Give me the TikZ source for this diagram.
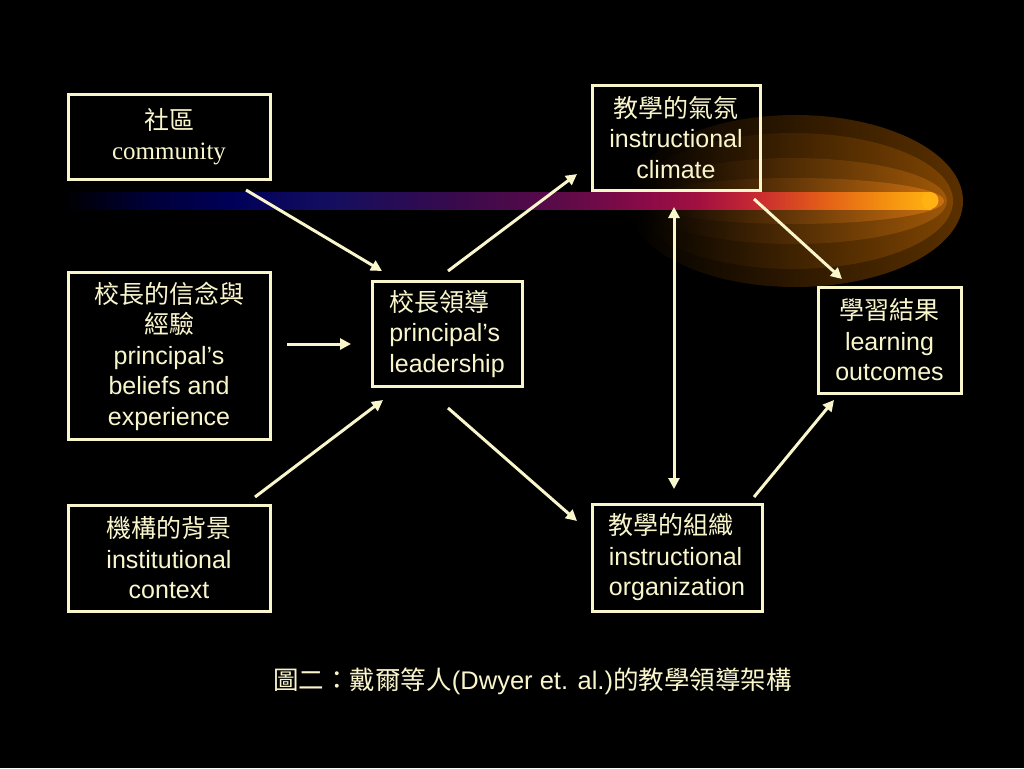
\documentclass[tikz,border=0pt]{standalone}
\usepackage{fontspec}
\setmainfont{Liberation Sans}
\newfontfamily\cjk{Noto Sans CJK TC}
\newfontfamily\serifen{Liberation Serif}
\usetikzlibrary{arrows.meta}
\definecolor{cream}{HTML}{FAF6CC}
\definecolor{g1}{HTML}{4E2A00}
\definecolor{g2}{HTML}{6E3B02}
\definecolor{g3}{HTML}{8E4C06}
\definecolor{g4}{HTML}{B8620C}
\definecolor{h1}{HTML}{5A3000}
\definecolor{h2}{HTML}{7E4402}
\definecolor{h3}{HTML}{A05808}
\definecolor{h4}{HTML}{CC7010}
\definecolor{b0}{HTML}{000000}
\definecolor{b1}{HTML}{00003A}
\definecolor{b2}{HTML}{000058}
\definecolor{b3}{HTML}{140E60}
\definecolor{b4}{HTML}{3A0A4C}
\definecolor{b5}{HTML}{5C0A48}
\definecolor{b6}{HTML}{880A48}
\definecolor{b7}{HTML}{A21040}
\definecolor{b8}{HTML}{CA2C30}
\definecolor{b9}{HTML}{E25C18}
\definecolor{b10}{HTML}{F28C10}
\definecolor{b11}{HTML}{FFB212}
\tikzset{
  box/.style={draw=cream, line width=3pt, inner sep=0pt, text=cream,
    font=\fontsize{25}{30.5}\selectfont},
  tip/.style={Triangle[length=11pt,width=11pt]},
  conn/.style={draw=cream, line width=3pt, -{Triangle[length=11pt,width=11pt]}},
  dconn/.style={draw=cream, line width=3pt, {Triangle[length=11pt,width=11pt]}-{Triangle[length=11pt,width=11pt]}},
}
\begin{document}
\begin{tikzpicture}[x=1pt,y=-1pt]
\useasboundingbox (0,0) rectangle (1024,768);
\fill[black] (0,0) rectangle (1024,768);
% glow
\shade[left color=black, middle color=g1, right color=h1] (795,201) ellipse [x radius=168, y radius=86];
\shade[left color=black, middle color=g2, right color=h2] (793,201) ellipse [x radius=160, y radius=68];
\shade[left color=black, middle color=g3, right color=h3] (793,201) ellipse [x radius=154, y radius=43];
\shade[left color=black, middle color=g4, right color=h4] (794,201) ellipse [x radius=150, y radius=23];
% comet bar
\foreach \xa/\xb/\ca/\cb in {63/150/b0/b1, 150/230/b1/b2, 230/330/b2/b3, 330/460/b3/b4,
   460/560/b4/b5, 560/640/b5/b6, 640/700/b6/b7, 700/760/b7/b8, 760/820/b8/b9,
   820/880/b9/b10, 880/931/b10/b11}
  \shade[left color=\ca, right color=\cb] (\xa-0.6,192) rectangle (\xb+0.6,209);
\fill[b11] (930,200.5) circle [radius=8.5];
% boxes
\node[box, minimum width=202pt, minimum height=85pt, align=center] (comm) at (169,136.5)
  {{\cjk 社區}\\{\serifen community}};
\node[box, minimum width=202pt, minimum height=167pt, align=center] (beli) at (169,356)
  {{\cjk 校長的信念與}\\{\cjk 經驗}\\principal’s\\beliefs and\\experience};
\node[box, minimum width=202pt, minimum height=106pt, align=center] (inst) at (169,558)
  {{\cjk 機構的背景}\\institutional\\context};
\node[box, minimum width=150pt, minimum height=105pt, align=left] (lead) at (447,333.5)
  {{\cjk 校長領導}\\principal’s\\leadership};
\node[box, minimum width=168pt, minimum height=105pt, align=center] (clim) at (676,137.5)
  {{\cjk 教學的氣氛}\\instructional\\climate};
\node[box, minimum width=170pt, minimum height=107pt, align=left] (orgn) at (677,557.5)
  {{\cjk 教學的組織}\\instructional\\organization};
\node[box, minimum width=143pt, minimum height=106pt, align=center] (outc) at (889.5,340)
  {{\cjk 學習結果}\\learning\\outcomes};
% caption
\node[text=cream, font=\fontsize{25.5}{30}\selectfont, inner sep=0pt] (capt) at (532.5,681)
  {{\cjk 圖二：戴爾等人}(Dwyer et. al.){\cjk 的教學領導架構}};
% arrow end points
\coordinate (a1s) at (246,190); \coordinate (a1e) at (382,271);
\coordinate (a2s) at (287,344); \coordinate (a2e) at (351,344);
\coordinate (a3s) at (255,497); \coordinate (a3e) at (383,400);
\coordinate (a4s) at (448,271); \coordinate (a4e) at (577,174);
\coordinate (a5s) at (448,408); \coordinate (a5e) at (577,521);
\coordinate (a6s) at (674,207); \coordinate (a6e) at (674,489);
\coordinate (a7s) at (754,199); \coordinate (a7e) at (842,279);
\coordinate (a8s) at (754,497); \coordinate (a8e) at (834,400);
\draw[conn] (a1s) -- (a1e);
\draw[conn] (a2s) -- (a2e);
\draw[conn] (a3s) -- (a3e);
\draw[conn] (a4s) -- (a4e);
\draw[conn] (a5s) -- (a5e);
\draw[dconn] (a6s) -- (a6e);
\draw[conn] (a7s) -- (a7e);
\draw[conn] (a8s) -- (a8e);
\end{tikzpicture}
\end{document}
